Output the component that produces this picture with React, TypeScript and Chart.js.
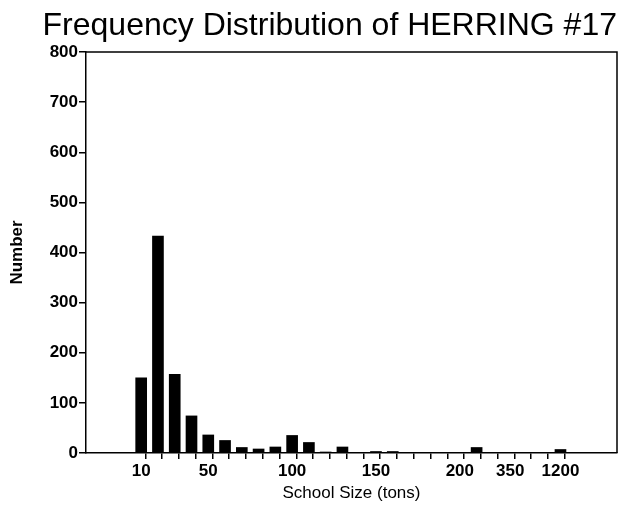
import React, { useEffect, useRef } from 'react';
import { Chart, registerables } from 'chart.js';

Chart.register(...registerables);

// School-size bins (only some are labelled on the axis)
const binLabels = ['10', '', '', '', '50', '', '', '', '', '100', '', '', '', '', '150', '', '', '', '', '200', '', '', '350', '', '', '1200'];
// Number of schools in each bin
const counts = [150, 433, 157, 74, 36, 25, 11, 8, 12, 35, 21, 2, 12, 0, 3, 3, 0, 0, 0, 0, 11, 0, 0, 0, 0, 7];
// Y axis ticks
const yMin = 0;
const yMax = 800;
const yStep = 100;

const FONT = "'Liberation Sans', Arial, Helvetica, sans-serif";

const boxPlugin = {
  id: 'box',
  beforeDraw(chart: any) {
    const { ctx } = chart;
    ctx.save();
    ctx.fillStyle = '#fff';
    ctx.fillRect(0, 0, chart.width, chart.height);
    ctx.restore();
  },
  afterDraw(chart: any) {
    const { ctx, chartArea } = chart;
    ctx.save();
    ctx.strokeStyle = '#000';
    ctx.lineWidth = 1.5;
    ctx.beginPath();
    ctx.moveTo(chartArea.left, chartArea.top);
    ctx.lineTo(chartArea.right, chartArea.top);
    ctx.lineTo(chartArea.right, chartArea.bottom);
    ctx.stroke();
    ctx.restore();
  },
};

export default function App() {
  const ref = useRef<HTMLCanvasElement>(null);

  useEffect(() => {
    if (!ref.current) return;
    const data = counts.map((c, i) => ({ x: i + 1, y: c }));
    const chart = new Chart(ref.current, {
      type: 'bar',
      data: {
        datasets: [
          {
            data: data as any,
            backgroundColor: '#000',
            borderWidth: 0,
            barThickness: 11,
          },
        ],
      },
      options: {
        responsive: false,
        animation: false,
        devicePixelRatio: 1,
        layout: { padding: { top: 0, right: 3, bottom: 0, left: 0 } },
        plugins: {
          legend: { display: false },
          tooltip: { enabled: false },
          title: {
            display: true,
            text: 'Frequency Distribution of HERRING #17',
            align: 'end',
            color: '#000',
            font: { family: FONT, size: 32, weight: 'normal', lineHeight: 1.2 },
            padding: { top: 7, bottom: 6.6 },
          },
        },
        scales: {
          x: {
            type: 'linear',
            min: -1.98,
            max: 29.06,
            afterBuildTicks: (scale: any) => {
              const t: any[] = [];
              for (let i = 0; i < binLabels.length; i++) {
                t.push({ value: i + 1 });
                if (i < binLabels.length - 1) t.push({ value: i + 1.5 });
              }
              scale.ticks = t;
            },
            afterFit: (scale: any) => {
              scale.height = 56;
            },
            ticks: {
              autoSkip: false,
              maxRotation: 0,
              minRotation: 0,
              padding: 2,
              color: '#000',
              font: { family: FONT, size: 17, weight: 'bold' },
              callback: (value: any) => {
                const v = Number(value);
                if (Number.isInteger(v)) return binLabels[v - 1] ?? '';
                return '';
              },
            },
            grid: {
              display: true,
              drawOnChartArea: false,
              drawTicks: true,
              tickLength: 6,
              lineWidth: 1.5,
              tickColor: (ctx: any) =>
                ctx.tick && Number.isInteger(ctx.tick.value) ? 'rgba(0,0,0,0)' : '#000',
            },
            border: { display: true, color: '#000', width: 1.5 },
            title: {
              display: true,
              text: 'School Size (tons)',
              color: '#000',
              font: { family: FONT, size: 17, weight: 'normal', lineHeight: 1.2 },
              padding: { top: 0, bottom: 5 },
            },
          },
          y: {
            min: yMin,
            max: yMax,
            afterFit: (scale: any) => {
              scale.width = 86;
            },
            ticks: {
              stepSize: yStep,
              padding: 1,
              color: '#000',
              font: { family: FONT, size: 17, weight: 'bold' },
            },
            grid: {
              display: true,
              drawOnChartArea: false,
              drawTicks: true,
              tickLength: 7,
              lineWidth: 1.5,
              tickColor: '#000',
            },
            border: { display: true, color: '#000', width: 1.5 },
            title: {
              display: true,
              text: 'Number',
              color: '#000',
              font: { family: FONT, size: 17, weight: 'bold', lineHeight: 1.2 },
              padding: { top: 7, bottom: 0 },
            },
          },
        },
      },
      plugins: [boxPlugin],
    });
    return () => chart.destroy();
  }, []);

  return (
    <div style={{ position: 'fixed', left: 0, top: 0, width: 620, height: 509, background: '#fff' }}>
      <canvas ref={ref} width={620} height={509} style={{ display: 'block', width: 620, height: 509 }} />
    </div>
  );
}
